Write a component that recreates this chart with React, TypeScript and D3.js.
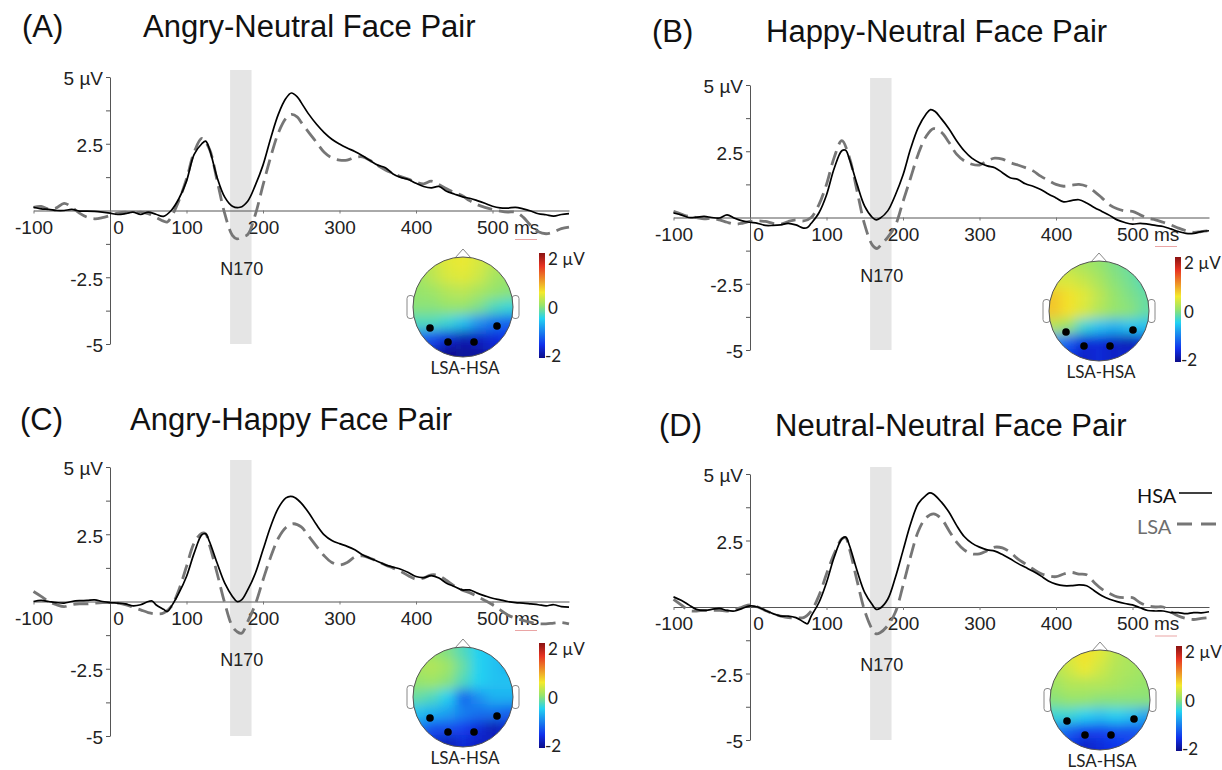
import React, { useEffect, useRef } from 'react';
import * as d3 from 'd3';

// ERP waveforms, [ms, µV]
const angryNeutralHSA = [
  [-100, 0.12], [-90, 0.06], [-80, 0.04], [-70, 0.0], [-60, 0.0], [-50, 0.04], [-40, -0.02], [-30, -0.02], [-20, -0.03], [-10, -0.06],
  [0, -0.1], [10, -0.15], [20, -0.12], [30, -0.06], [40, -0.15], [50, -0.06], [60, -0.14], [70, -0.22], [80, 0.0], [90, 0.44],
  [100, 1.1], [110, 2.1], [120, 2.5], [125, 2.6], [130, 2.3], [140, 1.24], [150, 0.5], [160, 0.16], [170, 0.12], [180, 0.35],
  [190, 0.95], [200, 1.7], [210, 2.7], [220, 3.6], [230, 4.2], [237, 4.4], [245, 4.25], [250, 4.04], [260, 3.6], [270, 3.23],
  [280, 2.92], [290, 2.67], [300, 2.49], [310, 2.34], [320, 2.21], [330, 2.05], [340, 1.87], [350, 1.7], [360, 1.6], [370, 1.37],
  [380, 1.24], [390, 1.16], [400, 1.02], [410, 0.9], [420, 0.85], [430, 0.9], [440, 0.72], [450, 0.62], [460, 0.52], [470, 0.46],
  [480, 0.37], [490, 0.27], [500, 0.16], [510, 0.1], [520, 0.09], [530, 0.12], [540, 0.06], [550, -0.02], [560, -0.12], [570, -0.16],
  [580, -0.21], [590, -0.15], [600, -0.12],
];
const angryNeutralLSA = [
  [-100, 0.12], [-90, 0.15], [-80, 0.06], [-70, 0.1], [-60, 0.27], [-50, 0.12], [-40, -0.1], [-30, -0.25], [-20, -0.31], [-10, -0.27],
  [0, -0.19], [10, -0.1], [20, -0.06], [30, -0.1], [40, -0.06], [50, -0.12], [60, -0.25], [70, -0.4], [75, -0.43], [80, -0.25],
  [90, 0.37], [100, 1.18], [110, 2.18], [120, 2.7], [130, 2.3], [140, 1.12], [150, -0.12], [160, -0.93], [166, -1.06], [172, -1.0],
  [180, -0.9], [190, -0.15], [200, 0.95], [210, 2.0], [220, 2.9], [230, 3.45], [237, 3.6], [245, 3.5], [250, 3.3], [260, 2.92],
  [270, 2.55], [280, 2.18], [290, 1.97], [300, 1.89], [310, 1.89], [320, 1.99], [330, 2.01], [340, 1.87], [350, 1.68], [360, 1.52],
  [370, 1.39], [380, 1.27], [390, 1.18], [400, 1.06], [410, 1.0], [420, 1.1], [430, 0.97], [440, 0.81], [450, 0.68], [460, 0.56],
  [470, 0.37], [480, 0.22], [490, 0.12], [500, 0.04], [510, -0.02], [520, -0.06], [530, -0.06], [540, -0.25], [550, -0.56], [560, -0.8],
  [570, -0.87], [580, -0.8], [590, -0.68], [600, -0.62],
];
const happyNeutralHSA = [
  [-100, 0.17], [-90, 0.1], [-80, 0.0], [-70, 0.01], [-60, 0.04], [-50, 0.0], [-40, -0.02], [-30, 0.1], [-20, -0.03], [-10, -0.13],
  [0, -0.18], [10, -0.22], [20, -0.3], [30, -0.3], [40, -0.28], [50, -0.22], [60, -0.28], [70, -0.4], [75, -0.38], [80, -0.22],
  [90, 0.17], [100, 0.85], [110, 1.85], [120, 2.52], [125, 2.54], [130, 2.2], [140, 1.25], [150, 0.42], [160, 0.0], [165, -0.09],
  [170, -0.03], [180, 0.25], [190, 0.85], [200, 1.6], [210, 2.6], [220, 3.4], [230, 3.9], [236, 4.07], [242, 4.0], [250, 3.73],
  [260, 3.35], [270, 2.9], [280, 2.52], [290, 2.24], [300, 2.07], [310, 1.95], [320, 1.88], [330, 1.69], [340, 1.5], [350, 1.44],
  [360, 1.27], [370, 1.18], [380, 1.06], [390, 0.89], [400, 0.74], [410, 0.59], [420, 0.64], [430, 0.67], [440, 0.55], [450, 0.38],
  [460, 0.23], [470, 0.08], [480, -0.09], [490, -0.19], [500, -0.25], [510, -0.22], [520, -0.25], [530, -0.3], [540, -0.34], [550, -0.43],
  [560, -0.53], [570, -0.6], [580, -0.6], [590, -0.53], [600, -0.5],
];
const happyNeutralLSA = [
  [-100, 0.23], [-90, 0.13], [-80, 0.04], [-70, 0.0], [-60, -0.05], [-50, -0.03], [-40, -0.09], [-30, -0.18], [-20, -0.25], [-10, -0.22],
  [0, -0.15], [10, -0.13], [20, -0.15], [30, -0.22], [40, -0.25], [50, -0.15], [60, -0.09], [70, -0.13], [80, 0.0], [90, 0.48],
  [100, 1.25], [110, 2.26], [120, 2.9], [130, 2.26], [140, 0.99], [150, -0.28], [160, -1.04], [166, -1.17], [172, -1.0], [180, -0.75],
  [190, -0.3], [200, 0.6], [210, 1.5], [220, 2.4], [230, 3.05], [240, 3.35], [250, 3.22], [260, 2.84], [270, 2.39], [280, 2.14],
  [290, 2.01], [300, 1.98], [310, 2.14], [320, 2.24], [330, 2.2], [340, 2.07], [350, 1.98], [360, 1.88], [370, 1.76], [380, 1.56],
  [390, 1.4], [400, 1.25], [410, 1.18], [420, 1.22], [430, 1.25], [440, 1.18], [450, 0.99], [460, 0.74], [470, 0.48], [480, 0.33],
  [490, 0.25], [500, 0.23], [510, 0.1], [520, -0.03], [530, -0.09], [540, -0.18], [550, -0.28], [560, -0.4], [570, -0.5], [580, -0.56],
  [590, -0.53], [600, -0.5],
];
const angryHappyHSA = [
  [-100, 0.0], [-90, 0.04], [-80, 0.0], [-70, -0.04], [-60, -0.06], [-50, 0.0], [-40, 0.03], [-30, 0.04], [-20, 0.06], [-10, 0.0],
  [0, -0.04], [10, -0.06], [20, -0.09], [30, -0.16], [40, -0.12], [50, 0.0], [55, 0.02], [60, -0.12], [70, -0.29], [75, -0.37],
  [80, -0.19], [90, 0.31], [100, 0.93], [110, 1.8], [120, 2.48], [125, 2.52], [130, 2.23], [140, 1.43], [150, 0.68], [160, 0.19],
  [166, 0.0], [172, 0.06], [180, 0.43], [190, 1.05], [200, 1.92], [210, 2.79], [220, 3.47], [230, 3.85], [236, 3.91], [242, 3.86],
  [250, 3.66], [260, 3.29], [270, 2.85], [280, 2.48], [290, 2.27], [300, 2.15], [310, 2.05], [320, 1.92], [330, 1.74], [340, 1.61],
  [350, 1.49], [360, 1.36], [370, 1.28], [380, 1.2], [390, 1.08], [400, 0.93], [410, 0.89], [420, 0.96], [430, 0.87], [440, 0.68],
  [450, 0.56], [460, 0.43], [470, 0.43], [480, 0.31], [490, 0.21], [500, 0.12], [510, 0.06], [520, 0.0], [530, -0.04], [540, -0.06],
  [550, -0.09], [560, -0.12], [570, -0.16], [580, -0.12], [590, -0.19], [600, -0.21],
];
const angryHappyLSA = [
  [-100, 0.37], [-90, 0.19], [-80, 0.0], [-70, -0.12], [-60, -0.19], [-50, -0.12], [-40, -0.09], [-30, -0.09], [-20, -0.06], [-10, -0.04],
  [0, -0.04], [10, -0.06], [20, -0.12], [30, -0.21], [40, -0.31], [50, -0.41], [60, -0.46], [70, -0.43], [80, -0.19], [90, 0.43],
  [100, 1.3], [110, 2.17], [120, 2.54], [125, 2.52], [130, 2.11], [140, 1.05], [150, -0.06], [160, -0.93], [166, -1.12], [172, -1.18],
  [180, -0.75], [190, -0.1], [200, 0.8], [210, 1.65], [220, 2.35], [230, 2.75], [240, 2.89], [250, 2.77], [260, 2.42], [270, 2.05],
  [280, 1.7], [290, 1.45], [300, 1.36], [310, 1.45], [320, 1.65], [330, 1.7], [340, 1.61], [350, 1.49], [360, 1.36], [370, 1.24],
  [380, 1.12], [390, 0.96], [400, 0.83], [410, 0.87], [420, 0.99], [430, 0.96], [440, 0.78], [450, 0.58], [460, 0.43], [470, 0.33],
  [480, 0.19], [490, 0.04], [500, -0.12], [510, -0.31], [520, -0.5], [530, -0.62], [540, -0.7], [550, -0.78], [560, -0.83], [570, -0.83],
  [580, -0.8], [590, -0.78], [600, -0.83],
];
const neutralNeutralHSA = [
  [-100, 0.38], [-90, 0.25], [-80, 0.08], [-70, -0.09], [-60, -0.13], [-50, -0.09], [-40, -0.05], [-30, -0.13], [-20, -0.15], [-10, -0.05],
  [0, 0.04], [10, 0.0], [20, -0.13], [30, -0.25], [40, -0.34], [50, -0.34], [60, -0.4], [70, -0.56], [75, -0.63], [80, -0.34],
  [90, 0.16], [100, 0.92], [110, 1.87], [120, 2.56], [125, 2.63], [130, 2.31], [140, 1.36], [150, 0.54], [160, 0.08], [165, -0.09],
  [170, -0.05], [180, 0.29], [190, 1.11], [200, 2.12], [210, 3.13], [220, 3.89], [230, 4.2], [235, 4.29], [240, 4.24], [250, 3.95],
  [260, 3.57], [270, 3.07], [280, 2.65], [290, 2.4], [300, 2.25], [310, 2.15], [320, 2.1], [330, 1.97], [340, 1.81], [350, 1.64],
  [360, 1.49], [370, 1.34], [380, 1.17], [390, 0.98], [400, 0.86], [410, 0.8], [420, 0.8], [430, 0.83], [440, 0.8], [450, 0.61],
  [460, 0.42], [470, 0.29], [480, 0.2], [490, 0.13], [500, 0.08], [510, -0.03], [520, -0.13], [530, -0.15], [540, -0.15], [550, -0.21],
  [560, -0.21], [570, -0.25], [580, -0.21], [590, -0.22], [600, -0.18],
];
const neutralNeutralLSA = [
  [-100, 0.29], [-90, 0.08], [-80, -0.13], [-70, -0.15], [-60, -0.13], [-50, -0.13], [-40, -0.13], [-30, -0.15], [-20, -0.09], [-10, 0.0],
  [0, 0.08], [10, 0.0], [20, -0.13], [30, -0.25], [40, -0.34], [50, -0.4], [60, -0.4], [70, -0.4], [80, -0.15], [90, 0.42],
  [100, 1.24], [110, 2.0], [120, 2.56], [125, 2.6], [130, 2.18], [140, 0.98], [150, -0.15], [160, -0.85], [165, -1.01], [170, -0.97],
  [180, -0.7], [190, -0.2], [200, 0.8], [210, 1.9], [220, 2.85], [230, 3.35], [240, 3.5], [250, 3.32], [260, 2.88], [270, 2.44],
  [280, 2.15], [290, 2.0], [300, 2.0], [310, 2.12], [320, 2.25], [330, 2.22], [340, 2.06], [350, 1.81], [360, 1.62], [370, 1.43],
  [380, 1.26], [390, 1.17], [400, 1.14], [410, 1.24], [420, 1.3], [430, 1.24], [440, 1.21], [450, 0.92], [460, 0.67], [470, 0.51],
  [480, 0.38], [490, 0.35], [500, 0.35], [510, 0.16], [520, 0.04], [530, 0.0], [540, 0.0], [550, -0.18], [560, -0.34], [570, -0.43],
  [580, -0.47], [590, -0.43], [600, -0.4],
];

// LSA-HSA scalp maps, µV on a coarse 7x7 grid (rows top→bottom)
const angryNeutralTopo = [
  [0.1, 0.25, 0.4, 0.45, 0.35, 0.2, 0.1],
  [0.05, 0.2, 0.35, 0.4, 0.3, 0.1, 0.0],
  [0.0, 0.05, 0.15, 0.2, 0.1, 0.0, -0.05],
  [-0.05, -0.05, 0.0, 0.0, -0.1, -0.3, -0.4],
  [-0.3, -0.3, -0.4, -0.6, -0.9, -1.1, -1.2],
  [-1.1, -1.3, -1.6, -1.8, -1.7, -1.6, -1.5],
  [-1.5, -1.7, -2.0, -1.9, -1.9, -1.7, -1.5],
];
const happyNeutralTopo = [
  [0.2, 0.2, 0.1, 0.0, -0.1, -0.2, -0.3],
  [0.35, 0.35, 0.25, 0.1, -0.05, -0.15, -0.3],
  [0.7, 0.55, 0.4, 0.2, 0.0, -0.1, -0.2],
  [0.7, 0.55, 0.35, 0.15, 0.0, -0.05, -0.2],
  [0.15, 0.0, -0.4, -0.6, -0.7, -0.6, -0.6],
  [-0.9, -1.2, -1.6, -1.6, -1.7, -1.8, -1.6],
  [-1.3, -1.5, -1.7, -1.6, -1.7, -1.6, -1.4],
];
const angryHappyTopo = [
  [0.0, 0.0, -0.1, -0.3, -0.5, -0.6, -0.7],
  [0.1, 0.15, 0.05, -0.2, -0.5, -0.6, -0.7],
  [0.0, 0.05, -0.05, -0.3, -0.5, -0.6, -0.6],
  [-0.2, -0.3, -0.5, -1.2, -0.9, -0.7, -0.7],
  [-0.6, -0.7, -0.8, -1.0, -1.1, -1.1, -1.2],
  [-1.0, -1.3, -1.3, -1.4, -1.6, -1.8, -1.6],
  [-1.3, -1.6, -1.8, -1.6, -1.7, -1.7, -1.5],
];
const neutralNeutralTopo = [
  [0.2, 0.4, 0.55, 0.4, 0.2, 0.1, 0.05],
  [0.15, 0.3, 0.45, 0.3, 0.15, 0.1, 0.05],
  [0.05, 0.15, 0.15, 0.15, 0.1, 0.05, 0.0],
  [-0.05, 0.0, 0.0, -0.05, -0.05, -0.05, -0.05],
  [-0.4, -0.4, -0.5, -0.6, -0.5, -0.6, -0.8],
  [-1.0, -1.2, -1.4, -1.4, -1.3, -1.3, -1.2],
  [-1.4, -1.5, -1.7, -1.6, -1.5, -1.4, -1.3],
];

const panelLetters = ['(A)', '(B)', '(C)', '(D)'];
const panelTitles = ['Angry-Neutral Face Pair', 'Happy-Neutral Face Pair', 'Angry-Happy Face Pair', 'Neutral-Neutral Face Pair'];
const xTicks = [-100, 0, 100, 200, 300, 400, 500];
const yTicks = [5, 3.75, 2.5, 1.25, -1.25, -2.5, -3.75, -5];
const yLabelled = [5, 2.5, -2.5, -5];
const n170Window = [157, 185];
const colorbarTicks = [2, 0, -2];
const legendNames = ['HSA', 'LSA'];

const series = [
  [angryNeutralHSA, angryNeutralLSA],
  [happyNeutralHSA, happyNeutralLSA],
  [angryHappyHSA, angryHappyLSA],
  [neutralNeutralHSA, neutralNeutralLSA],
];
const topos = [angryNeutralTopo, happyNeutralTopo, angryHappyTopo, neutralNeutralTopo];

// page layout per panel (pixels)
const layout = [
  { letterX: 22, titleX: 143, titleY: 37, axisX: 110, yTop: 77, yBottom: 344, head: [463, 307] },
  { letterX: 652, titleX: 766, titleY: 42, axisX: 750, yTop: 85, yBottom: 350, head: [1099, 311] },
  { letterX: 20, titleX: 130, titleY: 430, axisX: 110, yTop: 467, yBottom: 736, head: [463, 697] },
  { letterX: 659, titleX: 775, titleY: 436, axisX: 750, yTop: 474, yBottom: 740, head: [1100, 700] },
];
const electrodeOffsets = [[-33, 21], [-15, 35], [11, 35], [34, 19]];

const SANS = '"Liberation Sans", Arial, sans-serif';
const CAL = 'Lato, "Open Sans", sans-serif';
const jetColors = ['#0c0c88', '#1030ec', '#22d2f2', '#96e46c', '#f4ea2c', '#e83422', '#8a1212'];
const jet = d3.scaleLinear<string>().domain([-2, -1.5, -0.5, 0, 0.5, 1.5, 2]).range(jetColors).clamp(true);

function drawTopo(g, cx, cy, grid, id) {
  const r = 50;
  const defs = g.append('defs');
  defs.append('clipPath').attr('id', `clip-${id}`)
    .append('circle').attr('cx', cx).attr('cy', cy).attr('r', r);
  defs.append('filter').attr('id', `blur-${id}`).attr('filterUnits', 'userSpaceOnUse')
    .attr('x', cx - r - 60).attr('y', cy - r - 60).attr('width', 2 * r + 120).attr('height', 2 * r + 120)
    .append('feGaussianBlur').attr('stdDeviation', 6);

  // ears + nose behind the scalp
  [-1, 1].forEach(s => {
    g.append('rect')
      .attr('x', s < 0 ? cx - r - 6 : cx + r - 1).attr('y', cy - 11.5)
      .attr('width', 7).attr('height', 23).attr('rx', 3)
      .style('fill', '#fff').style('stroke', '#888').style('stroke-width', 1);
  });
  g.append('path')
    .attr('d', `M${cx - 8},${cy - r + 1} L${cx},${cy - r - 8} L${cx + 8},${cy - r + 1}`)
    .style('fill', '#fff').style('stroke', '#888').style('stroke-width', 1);

  const n = grid.length;
  const ext = r + 4;
  const cell = (2 * ext) / n;
  const pad = 30;
  const cells = g.append('g').attr('clip-path', `url(#clip-${id})`)
    .append('g').attr('filter', `url(#blur-${id})`);
  grid.forEach((row, i) => row.forEach((v, j) => {
    let x0 = cx - ext + j * cell, x1 = x0 + cell;
    let y0 = cy - ext + i * cell, y1 = y0 + cell;
    if (j === 0) x0 -= pad;
    if (j === n - 1) x1 += pad;
    if (i === 0) y0 -= pad;
    if (i === n - 1) y1 += pad;
    cells.append('rect').attr('x', x0).attr('y', y0)
      .attr('width', x1 - x0 + 0.5).attr('height', y1 - y0 + 0.5)
      .style('fill', jet(v));
  }));

  g.append('circle').attr('cx', cx).attr('cy', cy).attr('r', r)
    .style('fill', 'none').style('stroke', '#555').style('stroke-width', 1);

  electrodeOffsets.forEach(([dx, dy]) => {
    g.append('circle').attr('cx', cx + dx).attr('cy', cy + dy).attr('r', 3.8).style('fill', '#000');
  });

  // colour bar
  const cbX = cx + 76, cbTop = cy - 54, cbH = 105;
  g.append('rect').attr('x', cbX).attr('y', cbTop).attr('width', 6).attr('height', cbH)
    .style('fill', 'url(#jet-grad)');
  const cb = d3.scaleLinear().domain([2, -2]).range([cbTop, cbTop + cbH]);
  colorbarTicks.forEach(t => {
    const dy = t === 2 ? 12 : t === 0 ? 8 : 4;
    g.append('text')
      .attr('x', t === -2 ? cbX + 6 : cbX + 9).attr('y', cb(t) + dy)
      .style('font-family', CAL).style('font-size', '17px').style('fill', '#222')
      .text(t === 2 ? '2 µV' : String(t));
  });

  g.append('text').attr('x', cx + 2).attr('y', cy + 67).attr('text-anchor', 'middle')
    .style('font-family', CAL).style('font-size', '17px').style('fill', '#222')
    .text('LSA-HSA');
}

function drawPanel(svg, k) {
  const L = layout[k];
  const [hsa, lsa] = series[k];
  const g = svg.append('g');

  const x = d3.scaleLinear().domain([-100, 600]).range([L.axisX - 76.5, L.axisX + 459]);
  const y = d3.scaleLinear().domain([-5, 5]).range([L.yBottom, L.yTop]);

  g.append('text').attr('x', L.letterX).attr('y', L.titleY)
    .style('font-family', SANS).style('font-size', '31px').style('fill', '#111').text(panelLetters[k]);
  g.append('text').attr('x', L.titleX).attr('y', L.titleY)
    .style('font-family', SANS).style('font-size', '31px').style('fill', '#111').text(panelTitles[k]);

  // N170 window
  g.append('rect')
    .attr('x', x(n170Window[0])).attr('width', x(n170Window[1]) - x(n170Window[0]))
    .attr('y', y(5) - 7).attr('height', y(-5) - y(5) + 7)
    .style('fill', '#e5e5e5');

  // y axis
  const ya = g.append('g').attr('transform', `translate(${L.axisX},0)`)
    .call(d3.axisLeft(y).tickValues(yTicks).tickSize(4).tickSizeOuter(0).tickPadding(3)
      .tickFormat(d => (yLabelled.includes(+d) ? (+d === 5 ? '5 µV' : String(d)) : '')));
  ya.select('.domain').style('stroke', '#555');
  ya.selectAll('line').style('stroke', '#555');
  ya.selectAll('text').attr('dy', '0.42em')
    .style('font-family', SANS).style('font-size', '19px').style('fill', '#222');

  // x axis on the zero line
  const xa = g.append('g').attr('transform', `translate(0,${y(0)})`)
    .call(d3.axisBottom(x).tickValues(xTicks).tickSize(3).tickSizeOuter(0).tickPadding(7)
      .tickFormat(d => String(d)));
  xa.select('.domain').style('stroke', '#555');
  xa.selectAll('line').style('stroke', '#777');
  xa.selectAll('text').style('font-family', SANS).style('font-size', '19px').style('fill', '#222');
  xa.selectAll('.tick').filter(d => d === 0).select('text').attr('x', 8);
  const t500 = xa.selectAll('.tick').filter(d => d === 500);
  t500.select('text').attr('text-anchor', 'start').attr('x', -16).text('500 ms');
  t500.append('line').attr('x1', 22).attr('x2', 44).attr('y1', 29).attr('y2', 29)
    .style('stroke', '#eaa5a5').style('stroke-width', 1);

  // waveforms
  const line = d3.line().x(d => x(d[0])).y(d => y(d[1])).curve(d3.curveCatmullRom.alpha(0.5));
  g.append('path').datum(lsa).attr('d', line)
    .style('fill', 'none').style('stroke', '#767676').style('stroke-width', 2.8).style('stroke-dasharray', '15,7');
  g.append('path').datum(hsa).attr('d', line)
    .style('fill', 'none').style('stroke', '#000').style('stroke-width', 1.7);

  g.append('text').attr('x', x((n170Window[0] + n170Window[1]) / 2) + 1).attr('y', y(0) + 64)
    .attr('text-anchor', 'middle')
    .style('font-family', SANS).style('font-size', '18px').style('fill', '#222').text('N170');

  drawTopo(g, L.head[0], L.head[1], topos[k], `p${k}`);
}

export default function App() {
  const ref = useRef<SVGSVGElement>(null);

  useEffect(() => {
    const svg = d3.select(ref.current);
    svg.selectAll('*').remove();
    svg.append('rect').attr('width', 1222).attr('height', 770).style('fill', '#fff');

    const grad = svg.append('defs').append('linearGradient').attr('id', 'jet-grad')
      .attr('x1', 0).attr('y1', 0).attr('x2', 0).attr('y2', 1);
    const stops = [2, 1.5, 0.5, 0, -0.5, -1.5, -2];
    stops.forEach(v => grad.append('stop').attr('offset', `${((2 - v) / 4) * 100}%`).attr('stop-color', jet(v)));

    [0, 1, 2, 3].forEach(k => drawPanel(svg, k));

    // legend (panel D)
    const lg = svg.append('g');
    legendNames.forEach((name, i) => {
      const yy = i === 0 ? 503 : 534;
      lg.append('text').attr('x', 1137).attr('y', yy)
        .style('font-family', CAL).style('font-size', '20px').style('fill', i === 0 ? '#111' : '#6e6e6e').text(name);
      lg.append('line').attr('x1', i === 0 ? 1179 : 1177).attr('x2', i === 0 ? 1212 : 1222)
        .attr('y1', yy - 10).attr('y2', yy - 10)
        .style('stroke', i === 0 ? '#000' : '#767676').style('stroke-width', i === 0 ? 1.7 : 2.8)
        .style('stroke-dasharray', i === 0 ? null : '15,9');
    });
  }, []);

  return (
    <svg ref={ref} width={1222} height={770}
      style={{ position: 'absolute', left: 0, top: 0, display: 'block' }} />
  );
}
